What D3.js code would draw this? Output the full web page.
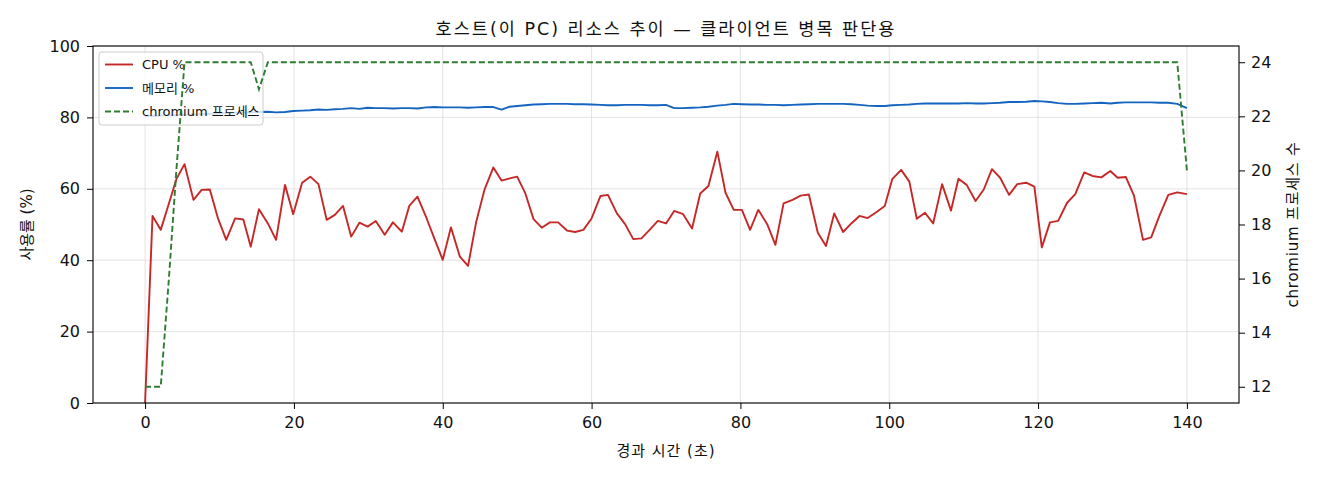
<!DOCTYPE html>
<html>
<head>
<meta charset="utf-8">
<script src="https://cdn.jsdelivr.net/npm/d3@7"></script>
<style>
  body { margin: 0; background: #fff; }
  svg { display: block; }
  text { font-family: "DejaVu Sans", "Noto Sans CJK KR", sans-serif; fill: #111; }
</style>
</head>
<body>
<script>
//Data (elapsed seconds)
const times = [
  0, 1.0, 2.1, 3.2, 4.2, 5.3, 6.5, 7.6, 8.7, 9.8,
  10.9, 12.1, 13.2, 14.2, 15.3, 16.5, 17.6, 18.8, 19.9, 21.1,
  22.2, 23.3, 24.4, 25.5, 26.6, 27.7, 28.8, 29.9, 31.0, 32.2,
  33.3, 34.5, 35.5, 36.6, 37.8, 38.9, 40.0, 41.1, 42.3, 43.4,
  44.5, 45.6, 46.8, 47.9, 49.0, 50.0, 51.1, 52.2, 53.3, 54.4,
  55.5, 56.7, 57.8, 58.9, 60.0, 61.2, 62.2, 63.4, 64.5, 65.6,
  66.7, 67.8, 68.9, 70.0, 71.1, 72.3, 73.5, 74.6, 75.7, 76.9,
  78.0, 79.1, 80.2, 81.3, 82.4, 83.6, 84.7, 85.8, 87.0, 88.1,
  89.2, 90.4, 91.5, 92.6, 93.8, 94.9, 96.0, 97.1, 98.3, 99.4,
  100.4, 101.6, 102.7, 103.7, 104.8, 105.9, 107.1, 108.3, 109.3, 110.4,
  111.6, 112.7, 113.8, 114.9, 116.1, 117.2, 118.4, 119.5, 120.5, 121.6,
  122.7, 123.9, 125.0, 126.2, 127.3, 128.5, 129.7, 130.7, 131.8, 132.9,
  134.1, 135.2, 136.3, 137.5, 138.7, 140.0
];

const cpuPct = [
  0, 52.4, 48.5, 55.9, 62.7, 66.9, 56.9, 59.7, 59.8, 51.7,
  45.7, 51.7, 51.4, 43.8, 54.3, 50.3, 45.7, 61.1, 52.9, 61.7,
  63.4, 61.3, 51.3, 52.7, 55.2, 46.6, 50.5, 49.4, 51.0, 47.1,
  50.6, 48.0, 55.2, 57.8, 51.9, 45.9, 40.1, 49.2, 41.0, 38.4,
  50.8, 59.7, 66.0, 62.3, 62.9, 63.4, 58.7, 51.5, 49.1, 50.6,
  50.6, 48.3, 47.9, 48.5, 51.7, 58.0, 58.3, 53.1, 50.1, 45.9,
  46.1, 48.5, 51.0, 50.3, 53.8, 52.9, 48.9, 58.7, 60.8, 70.4,
  58.9, 54.1, 54.1, 48.5, 54.1, 50.1, 44.3, 55.9, 56.9, 58.1,
  58.4, 47.7, 44.0, 53.1, 47.9, 50.3, 52.4, 51.8, 53.5, 55.2,
  62.7, 65.3, 62.0, 51.6, 53.3, 50.3, 61.3, 53.9, 62.8, 61.1,
  56.6, 59.8, 65.5, 63.1, 58.3, 61.3, 61.7, 60.6, 43.6, 50.6,
  51.0, 56.1, 58.5, 64.6, 63.6, 63.2, 65.0, 63.1, 63.3, 58.0,
  45.7, 46.4, 52.4, 58.3, 59.0, 58.5
];

const memPct = [
  80.4, 80.4, 80.5, 80.6, 80.6, 80.7, 80.8, 80.9, 81.0, 81.1,
  81.2, 81.3, 81.4, 81.4, 81.5, 81.6, 81.4, 81.5, 81.8, 81.9,
  82.0, 82.2, 82.1, 82.3, 82.4, 82.6, 82.4, 82.7, 82.6, 82.6,
  82.5, 82.6, 82.6, 82.5, 82.8, 82.9, 82.8, 82.8, 82.8, 82.7,
  82.8, 82.9, 82.9, 82.2, 83.0, 83.2, 83.4, 83.6, 83.7, 83.8,
  83.8, 83.8, 83.7, 83.7, 83.6, 83.5, 83.4, 83.4, 83.5, 83.5,
  83.5, 83.4, 83.4, 83.5, 82.6, 82.6, 82.7, 82.8, 83.0, 83.3,
  83.5, 83.8, 83.7, 83.6, 83.6, 83.5, 83.5, 83.4, 83.5, 83.6,
  83.7, 83.8, 83.8, 83.8, 83.8, 83.7, 83.5, 83.3, 83.2, 83.2,
  83.4, 83.5, 83.6, 83.8, 83.9, 83.9, 83.9, 83.9, 83.9, 84.0,
  83.9, 83.9, 84.0, 84.1, 84.3, 84.3, 84.4, 84.6, 84.5, 84.3,
  84.0, 83.8, 83.8, 83.9, 84.0, 84.1, 83.9, 84.1, 84.2, 84.2,
  84.2, 84.2, 84.1, 84.1, 83.8, 82.6
];

const chromiumCount = [
  12, 12, 12, 16, 20, 24, 24, 24, 24, 24,
  24, 24, 24, 24, 23, 24, 24, 24, 24, 24,
  24, 24, 24, 24, 24, 24, 24, 24, 24, 24,
  24, 24, 24, 24, 24, 24, 24, 24, 24, 24,
  24, 24, 24, 24, 24, 24, 24, 24, 24, 24,
  24, 24, 24, 24, 24, 24, 24, 24, 24, 24,
  24, 24, 24, 24, 24, 24, 24, 24, 24, 24,
  24, 24, 24, 24, 24, 24, 24, 24, 24, 24,
  24, 24, 24, 24, 24, 24, 24, 24, 24, 24,
  24, 24, 24, 24, 24, 24, 24, 24, 24, 24,
  24, 24, 24, 24, 24, 24, 24, 24, 24, 24,
  24, 24, 24, 24, 24, 24, 24, 24, 24, 24,
  24, 24, 24, 24, 24, 20
];

const xTicks = [0, 20, 40, 60, 80, 100, 120, 140];
const yLeftTicks = [0, 20, 40, 60, 80, 100];
const yRightTicks = [12, 14, 16, 18, 20, 22, 24];

const titleText = "호스트(이 PC) 리소스 추이 — 클라이언트 병목 판단용";
const xLabel = "경과 시간 (초)";
const yLeftLabel = "사용률 (%)";
const yRightLabel = "chromium 프로세스 수";
const legendNames = ["CPU %", "메모리 %", "chromium 프로세스"];

//Svg creation
const width = 1320;
const height = 480;
const margin = {top: 46, right: 81, bottom: 77, left: 93};
const innerW = width - margin.left - margin.right;
const innerH = height - margin.top - margin.bottom;

const svg = d3.select("body")
  .append("svg")
  .attr("width", width)
  .attr("height", height);

const g = svg.append("g")
  .attr("transform", `translate(${margin.left},${margin.top})`);

//Scales
const x = d3.scaleLinear().domain([-7, 147]).range([0, innerW]);
const yL = d3.scaleLinear().domain([0, 100]).range([innerH, 0]);
const yR = d3.scaleLinear().domain([11.4, 24.6]).range([innerH, 0]);

//Grid
g.append("g")
  .selectAll("line")
  .data(xTicks)
  .join("line")
  .attr("x1", d => x(d)).attr("x2", d => x(d))
  .attr("y1", 0).attr("y2", innerH)
  .attr("stroke", "#dcdcdc").attr("stroke-width", 0.8);

g.append("g")
  .selectAll("line")
  .data(yLeftTicks)
  .join("line")
  .attr("x1", 0).attr("x2", innerW)
  .attr("y1", d => yL(d)).attr("y2", d => yL(d))
  .attr("stroke", "#dcdcdc").attr("stroke-width", 0.8);

//Lines
const rows = times.map((t, i) => ({t, cpu: cpuPct[i], mem: memPct[i], chr: chromiumCount[i]}));

const cpuLine = d3.line().x(d => x(d.t)).y(d => yL(d.cpu));
const memLine = d3.line().x(d => x(d.t)).y(d => yL(d.mem));
const chrLine = d3.line().x(d => x(d.t)).y(d => yR(d.chr));

const colors = {cpu: "#c62828", mem: "#1565c0", chr: "#2e7d32"};

g.append("path").datum(rows).attr("d", cpuLine)
  .attr("fill", "none").attr("stroke", colors.cpu).attr("stroke-width", 1.9)
  .attr("stroke-linejoin", "round");
g.append("path").datum(rows).attr("d", memLine)
  .attr("fill", "none").attr("stroke", colors.mem).attr("stroke-width", 1.9)
  .attr("stroke-linejoin", "round");

//Legend (belongs to left axis, the twin axis line draws over it)
const legend = g.append("g").attr("transform", "translate(6,6)");
legend.append("rect")
  .attr("width", 164).attr("height", 73).attr("rx", 3)
  .attr("fill", "rgba(255,255,255,0.8)").attr("stroke", "#ccc").attr("stroke-width", 1);

const legendItems = [
  {name: legendNames[0], color: colors.cpu, dash: null},
  {name: legendNames[1], color: colors.mem, dash: null},
  {name: legendNames[2], color: colors.chr, dash: "6,3"}
];

const item = legend.selectAll("g.item")
  .data(legendItems)
  .join("g")
  .attr("class", "item")
  .attr("transform", (d, i) => `translate(0,${12.5 + i * 23.5})`);

item.append("line")
  .attr("x1", 6).attr("x2", 34)
  .attr("stroke", d => d.color).attr("stroke-width", 1.9)
  .attr("stroke-dasharray", d => d.dash);

item.append("text")
  .attr("x", 43).attr("dy", "0.35em")
  .style("font-size", "13px")
  .text(d => d.name);

g.append("path").datum(rows).attr("d", chrLine)
  .attr("fill", "none").attr("stroke", colors.chr).attr("stroke-width", 1.9)
  .attr("stroke-dasharray", "6,3");

//Axes
const fontSize = "16px";
const xAxis = g.append("g")
  .attr("transform", `translate(0,${innerH})`)
  .call(d3.axisBottom(x).tickValues(xTicks).tickSize(6).tickPadding(8));
const yAxisL = g.append("g")
  .call(d3.axisLeft(yL).tickValues(yLeftTicks).tickSize(6).tickPadding(7));
const yAxisR = g.append("g")
  .attr("transform", `translate(${innerW},0)`)
  .call(d3.axisRight(yR).tickValues(yRightTicks).tickSize(6).tickPadding(6));

[xAxis, yAxisL, yAxisR].forEach(a => {
  a.select(".domain").remove();
  a.selectAll(".tick line").attr("stroke", "#000").attr("stroke-width", 1);
  a.selectAll(".tick text").style("font-size", fontSize)
    .style("font-family", "'DejaVu Sans', sans-serif").attr("fill", "#111");
});

//Frame
g.append("rect")
  .attr("width", innerW).attr("height", innerH)
  .attr("fill", "none").attr("stroke", "#000").attr("stroke-width", 1.1);

//Labels
svg.append("text")
  .attr("x", margin.left + innerW / 2).attr("y", 35)
  .attr("text-anchor", "middle").style("font-size", "17.5px")
  .style("letter-spacing", "2px")
  .text(titleText);

svg.append("text")
  .attr("x", margin.left + innerW / 2).attr("y", 456)
  .attr("text-anchor", "middle").style("font-size", "15px")
  .style("letter-spacing", "1px")
  .text(xLabel);

svg.append("text")
  .attr("transform", `translate(32,${margin.top + innerH / 2}) rotate(-90)`)
  .attr("text-anchor", "middle").style("font-size", "15px")
  .text(yLeftLabel);

svg.append("text")
  .attr("transform", `translate(1298,${margin.top + innerH / 2}) rotate(-90)`)
  .attr("text-anchor", "middle").style("font-size", "15px")
  .style("letter-spacing", "0.8px")
  .text(yRightLabel);
</script>
</body>
</html>
